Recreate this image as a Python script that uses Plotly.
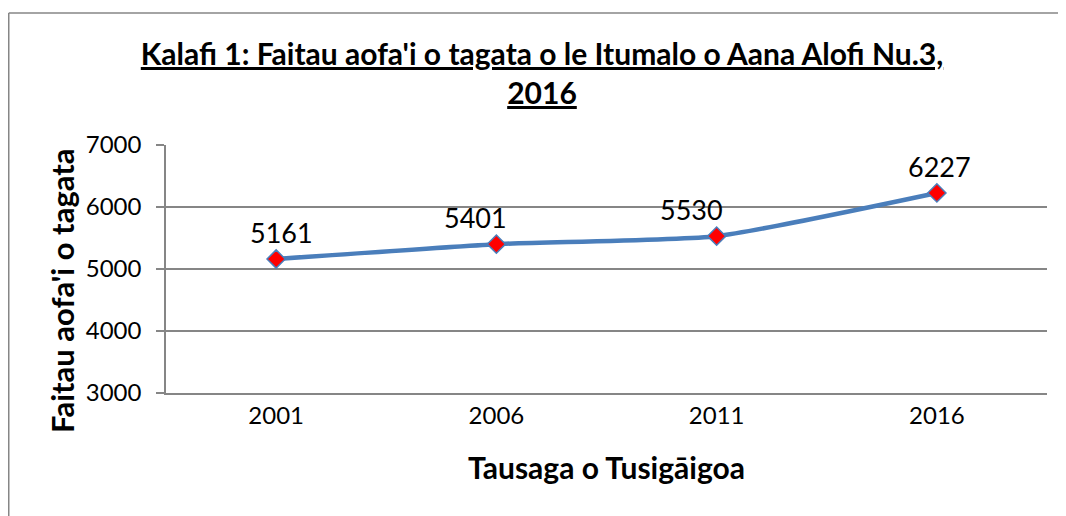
import plotly.graph_objects as go

years = ["2001", "2006", "2011", "2016"]
population = [5161, 5401, 5530, 6227]
label_xshift = [5, -21, -25, 3]

title_text = "<b><u>Kalafi 1: Faitau aofa'i o tagata o le Itumalo o Aana Alofi Nu.3,</u></b><br><b><u>2016</u></b>"
x_title = "Tausaga o Tusigāigoa"
y_title = "Faitau aofa'i o tagata"

# page body has an 8px margin; size the figure so it fits the 1066x516 window
W, H = 1058, 508
L, R, T, B = 158, 19, 137, 123
pw, ph = W - L - R, H - T - B
FONT = "Lato, Calibri, sans-serif"

fig = go.Figure()
fig.add_trace(go.Scatter(
    x=years, y=population, mode="lines+markers",
    line=dict(color="#4A7EBB", width=4.5, shape="spline", smoothing=0.5),
    marker=dict(symbol="diamond", size=14, color="#FF0000",
                line=dict(color="#4A7EBB", width=1.5)),
    hoverinfo="x+y", showlegend=False,
))

for i, v in enumerate(population):
    fig.add_annotation(x=i, y=v, xref="x", yref="y", text=str(v), showarrow=False,
                       yanchor="bottom", yshift=8, xshift=label_xshift[i],
                       font=dict(family=FONT, size=27, color="#000000"))

def fx(x):
    return (x - L) / pw

def fy(y):
    return 1 - (y - T) / ph

# y-axis title as an annotation (centred a little below the plot centre, as in the reference)
fig.add_annotation(x=fx(54), y=fy(283), xref="paper", yref="paper",
                   text=f"<b>{y_title}</b>", textangle=-90, showarrow=False,
                   xanchor="center", yanchor="middle",
                   font=dict(family=FONT, size=31, color="#000000"))

border = dict(color="#868686", width=1.5)
fig.add_shape(type="line", xref="paper", yref="paper",
              x0=fx(0.75), x1=fx(1300), y0=fy(5), y1=fy(5), line=border, layer="below")
fig.add_shape(type="line", xref="paper", yref="paper",
              x0=fx(0.75), x1=fx(0.75), y0=fy(5), y1=fy(800), line=border, layer="below")

fig.update_layout(
    width=W, height=H,
    margin=dict(l=L, r=R, t=T, b=B, autoexpand=False),
    paper_bgcolor="white", plot_bgcolor="white",
    font=dict(family=FONT, color="#000000"),
    title=dict(text=title_text, x=534 / W, xanchor="center", xref="container",
               y=1 - 57 / H, yanchor="top", yref="container",
               font=dict(family=FONT, size=30, color="#000000")),
    xaxis=dict(type="category", showgrid=False, showline=True, linecolor="#868686",
               linewidth=1.5, ticks="", tickfont=dict(size=24, family=FONT),
               range=[-0.5, 3.5],
               title=dict(text=f"<b>{x_title}</b>", font=dict(size=30, family=FONT), standoff=30)),
    yaxis=dict(range=[3000, 7000], dtick=1000, showgrid=True, gridcolor="#868686",
               gridwidth=1.5, showline=True, linecolor="#868686", linewidth=1.5,
               ticks="outside", ticklen=8, tickcolor="#868686", tickwidth=1.5,
               ticklabelstandoff=10,
               tickfont=dict(size=24, family=FONT), zeroline=False),
)

fig.write_html("out.html")
